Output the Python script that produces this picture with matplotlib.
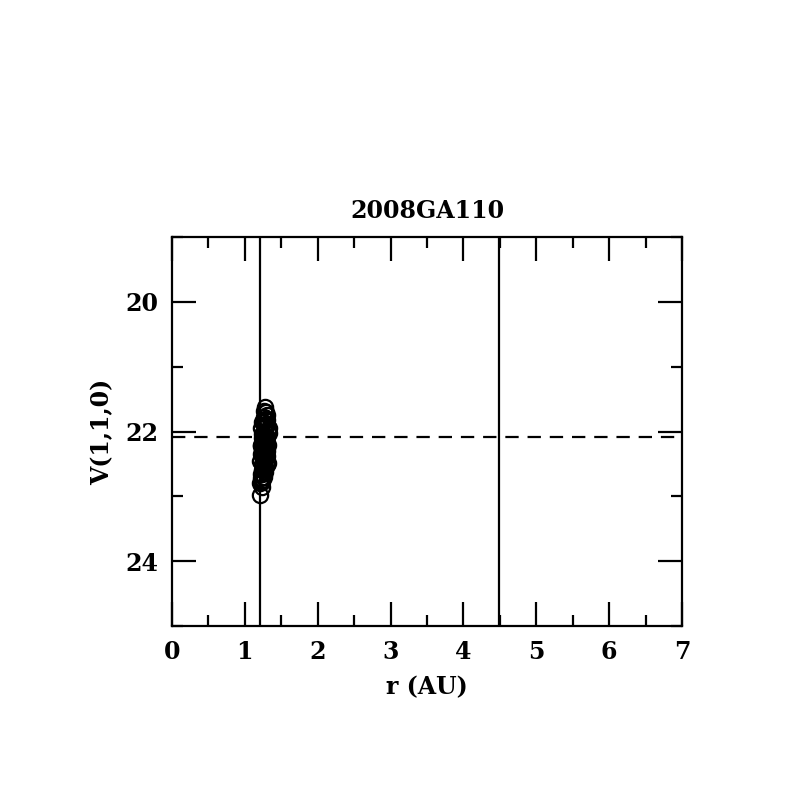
import matplotlib
matplotlib.use("Agg")
import matplotlib.pyplot as plt
from matplotlib.ticker import MultipleLocator

title = "2008GA110"
r_au = [1.28, 1.26, 1.30, 1.24, 1.31, 1.22, 1.27, 1.25, 1.32, 1.23, 1.33, 1.26,
        1.22, 1.29, 1.24, 1.31, 1.27, 1.25, 1.21, 1.30, 1.23, 1.28, 1.32, 1.24,
        1.27, 1.22, 1.25, 1.29, 1.23, 1.26, 1.21, 1.24, 1.27, 1.22, 1.25, 1.21,
        1.29, 1.31, 1.26, 1.28, 1.33, 1.24, 1.30, 1.27, 1.32, 1.25, 1.29, 1.23,
        1.28, 1.30, 1.26, 1.24, 1.31, 1.27, 1.22, 1.29, 1.25, 1.28, 1.23, 1.26,
        1.30, 1.27, 1.24, 1.29, 1.22, 1.26]
v110 = [21.62, 21.68, 21.75, 21.85, 21.90, 21.95, 22.00, 22.05, 21.98, 22.10, 22.02, 22.15,
        22.20, 22.25, 22.30, 22.18, 22.35, 22.40, 22.45, 22.38, 22.50, 22.55, 22.48, 22.60,
        22.28, 22.65, 22.70, 22.12, 22.75, 22.08, 22.80, 22.85, 21.80, 22.22, 22.42, 22.98,
        21.70, 21.82, 21.78, 21.88, 21.95, 22.04, 22.08, 22.14, 22.20, 22.26, 22.32, 22.36,
        22.44, 22.52, 22.58, 22.66, 22.30, 22.62, 22.72, 21.92, 21.86, 22.00, 22.18, 22.46,
        22.24, 22.54, 22.78, 22.40, 22.34, 22.70]
r_lines = [1.21, 4.49]
v_mean = 22.09

plt.rcParams['font.family'] = ['DejaVu Serif']
plt.rcParams['font.weight'] = 'bold'

fig = plt.figure(figsize=(7.97, 7.97), dpi=100)
ax = fig.add_axes([0.2158, 0.2145, 0.6399, 0.4881])

ax.plot(r_au, v110, 'o', mfc='none', mec='black', mew=1.6, ms=11)
for x in r_lines:
    ax.axvline(x, color='black', lw=1.6)
ax.axhline(v_mean, color='black', lw=1.6, ls=(0, (6, 4)))

ax.set_xlim(0, 7)
ax.set_ylim(25, 19)
ax.xaxis.set_major_locator(MultipleLocator(1))
ax.xaxis.set_minor_locator(MultipleLocator(0.5))
ax.yaxis.set_major_locator(MultipleLocator(2))
ax.yaxis.set_minor_locator(MultipleLocator(1))
ax.tick_params(which='both', direction='in', top=True, right=True, width=1.6, labelsize=17, pad=10)
ax.tick_params(which='major', length=17)
ax.tick_params(which='minor', length=8)
for s in ax.spines.values():
    s.set_linewidth(1.6)

ax.set_xlabel('r (AU)', fontsize=17, fontweight='bold', labelpad=8)
ax.set_ylabel('V(1,1,0)', fontsize=17, fontweight='bold', labelpad=8)
ax.set_title(title, fontsize=17, fontweight='bold', pad=14)

fig.savefig('out.png', dpi=100)
